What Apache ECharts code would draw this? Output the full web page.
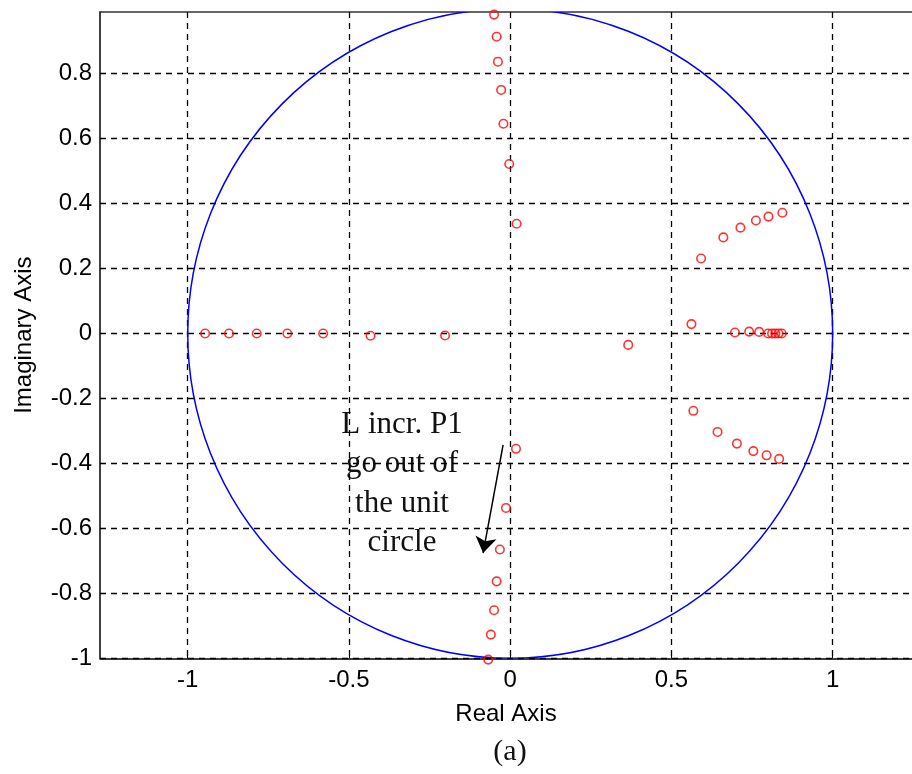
<!DOCTYPE html>
<html>
<head>
<meta charset="utf-8">
<script src="https://cdn.jsdelivr.net/npm/echarts@6/dist/echarts.min.js"></script>
<style>
  html, body { margin: 0; padding: 0; background: #fff; }
  #chart { width: 912px; height: 774px; }
</style>
</head>
<body>
<div id="chart"></div>
<script>
// Closed-loop pole locations [real, imaginary] as L is increased
const upperBranch = [[-0.050, 0.982], [-0.042, 0.914], [-0.038, 0.837], [-0.028, 0.750], [-0.021, 0.646], [-0.003, 0.522], [0.020, 0.338]];
const lowerBranch = [[0.018, -0.355], [-0.013, -0.537], [-0.032, -0.665], [-0.042, -0.763], [-0.050, -0.852], [-0.060, -0.927], [-0.068, -1.004]];
const negativeReal = [[-0.946, 0.000], [-0.872, 0.000], [-0.786, 0.000], [-0.691, 0.000], [-0.580, 0.000], [-0.433, -0.007], [-0.202, -0.006]];
const rightUpper = [[0.562, 0.029], [0.592, 0.231], [0.661, 0.296], [0.714, 0.326], [0.762, 0.348], [0.801, 0.360], [0.844, 0.372]];
const rightLower = [[0.568, -0.238], [0.643, -0.303], [0.703, -0.339], [0.754, -0.362], [0.795, -0.375], [0.834, -0.386]];
const positiveReal = [[0.366, -0.035], [0.697, 0.003], [0.741, 0.006], [0.772, 0.005], [0.800, 0.000], [0.812, 0.000], [0.822, 0.000], [0.832, 0.000], [0.842, 0.000]];

// Unit circle: [center re, center im, radius]
const unitCircle = [[0, 0, 1]];

// Axis ticks
const xTicks = [-1, -0.5, 0, 0.5, 1];
const yTicks = [-1, -0.8, -0.6, -0.4, -0.2, 0, 0.2, 0.4, 0.6, 0.8];

// Annotation arrow: start and tip [real, imaginary]
const arrowFrom = [-0.022, -0.343];
const arrowTo = [-0.084, -0.676];
const noteText = ['L incr. P1', 'go out of', 'the unit', 'circle'];

const poles = [].concat(upperBranch, lowerBranch, negativeReal, rightUpper, rightLower, positiveReal);

const sans = 'Liberation Sans, Arial, sans-serif';
const serif = 'Liberation Serif, Times New Roman, serif';
const gridDash = { color: '#000', type: [6, 5], width: 1.3 };

const chart = echarts.init(document.getElementById('chart'), null, { renderer: 'canvas' });

chart.setOption({
  animation: false,
  backgroundColor: '#fff',
  grid: { left: 100, top: 12, width: 812, height: 646.3, containLabel: false },
  xAxis: [
    {
      type: 'value', position: 'bottom', min: -1.272, max: 1.246, splitNumber: 5,
      axisLine: { show: true, onZero: false, lineStyle: { color: '#000', width: 1.5 } },
      axisTick: { show: true, inside: true, length: 6, customValues: xTicks, lineStyle: { color: '#000', width: 1 } },
      axisLabel: { customValues: xTicks, color: '#000', fontFamily: sans, fontSize: 24, margin: 10 },
      splitLine: { show: true, lineStyle: gridDash },
      name: 'Real Axis', nameLocation: 'middle', nameGap: 44,
      nameTextStyle: { color: '#000', fontFamily: sans, fontSize: 24 }
    },
    {
      type: 'value', position: 'top', min: -1.272, max: 1.246, splitNumber: 5,
      axisLine: { show: true, onZero: false, lineStyle: { color: '#333', width: 1.5 } },
      axisTick: { show: true, inside: true, length: 6, customValues: xTicks, lineStyle: { color: '#000', width: 1 } },
      axisLabel: { show: false },
      splitLine: { show: false }
    }
  ],
  yAxis: {
    type: 'value', min: -1, max: 0.99, interval: 0.2,
    axisLine: { show: true, onZero: false, lineStyle: { color: '#000', width: 1.5 } },
    axisTick: { show: true, inside: true, length: 6, customValues: yTicks, lineStyle: { color: '#000', width: 1 } },
    axisLabel: { customValues: yTicks, color: '#000', fontFamily: sans, fontSize: 24, margin: 8 },
    splitLine: { show: true, lineStyle: gridDash },
    name: 'Imaginary Axis', nameLocation: 'middle', nameGap: 64,
    nameTextStyle: { color: '#000', fontFamily: sans, fontSize: 24 }
  },
  series: [
    {
      name: 'unit circle',
      type: 'custom',
      clip: true,
      silent: true,
      data: unitCircle,
      renderItem: function (params, api) {
        const c = api.coord([api.value(0), api.value(1)]);
        const s = api.size([api.value(2), api.value(2)]);
        return {
          type: 'path',
          shape: {
            pathData: 'M -1 0 A 1 1 0 1 0 1 0 A 1 1 0 1 0 -1 0 Z',
            x: c[0] - s[0], y: c[1] - s[1], width: 2 * s[0], height: 2 * s[1],
            layout: 'cover'
          },
          style: { fill: 'none', stroke: '#0000ff', lineWidth: 1.5 }
        };
      }
    },
    {
      name: 'poles',
      type: 'scatter',
      clip: false,
      silent: true,
      symbol: 'circle',
      symbolSize: 8.5,
      itemStyle: { color: 'rgba(0,0,0,0)', borderColor: '#ff0000', borderWidth: 1.6 },
      data: poles,
      markLine: {
        silent: true,
        symbol: ['none', 'arrow'],
        symbolSize: 16,
        label: { show: false },
        lineStyle: { color: '#000', width: 1.5, type: 'solid' },
        itemStyle: { color: '#000' },
        emphasis: { disabled: true },
        data: [[{ coord: arrowFrom }, { coord: arrowTo }]]
      }
    }
  ],
  graphic: [
    {
      type: 'text', x: 402, y: 405, silent: true,
      style: {
        text: noteText.join('\n'), fill: '#111', font: '31px ' + serif,
        align: 'center', verticalAlign: 'top', lineHeight: 39.5
      }
    },
    {
      type: 'text', x: 510, y: 752, silent: true,
      style: { text: '(a)', fill: '#111', font: '30px ' + serif, align: 'center', verticalAlign: 'middle' }
    }
  ]
});
</script>
</body>
</html>
